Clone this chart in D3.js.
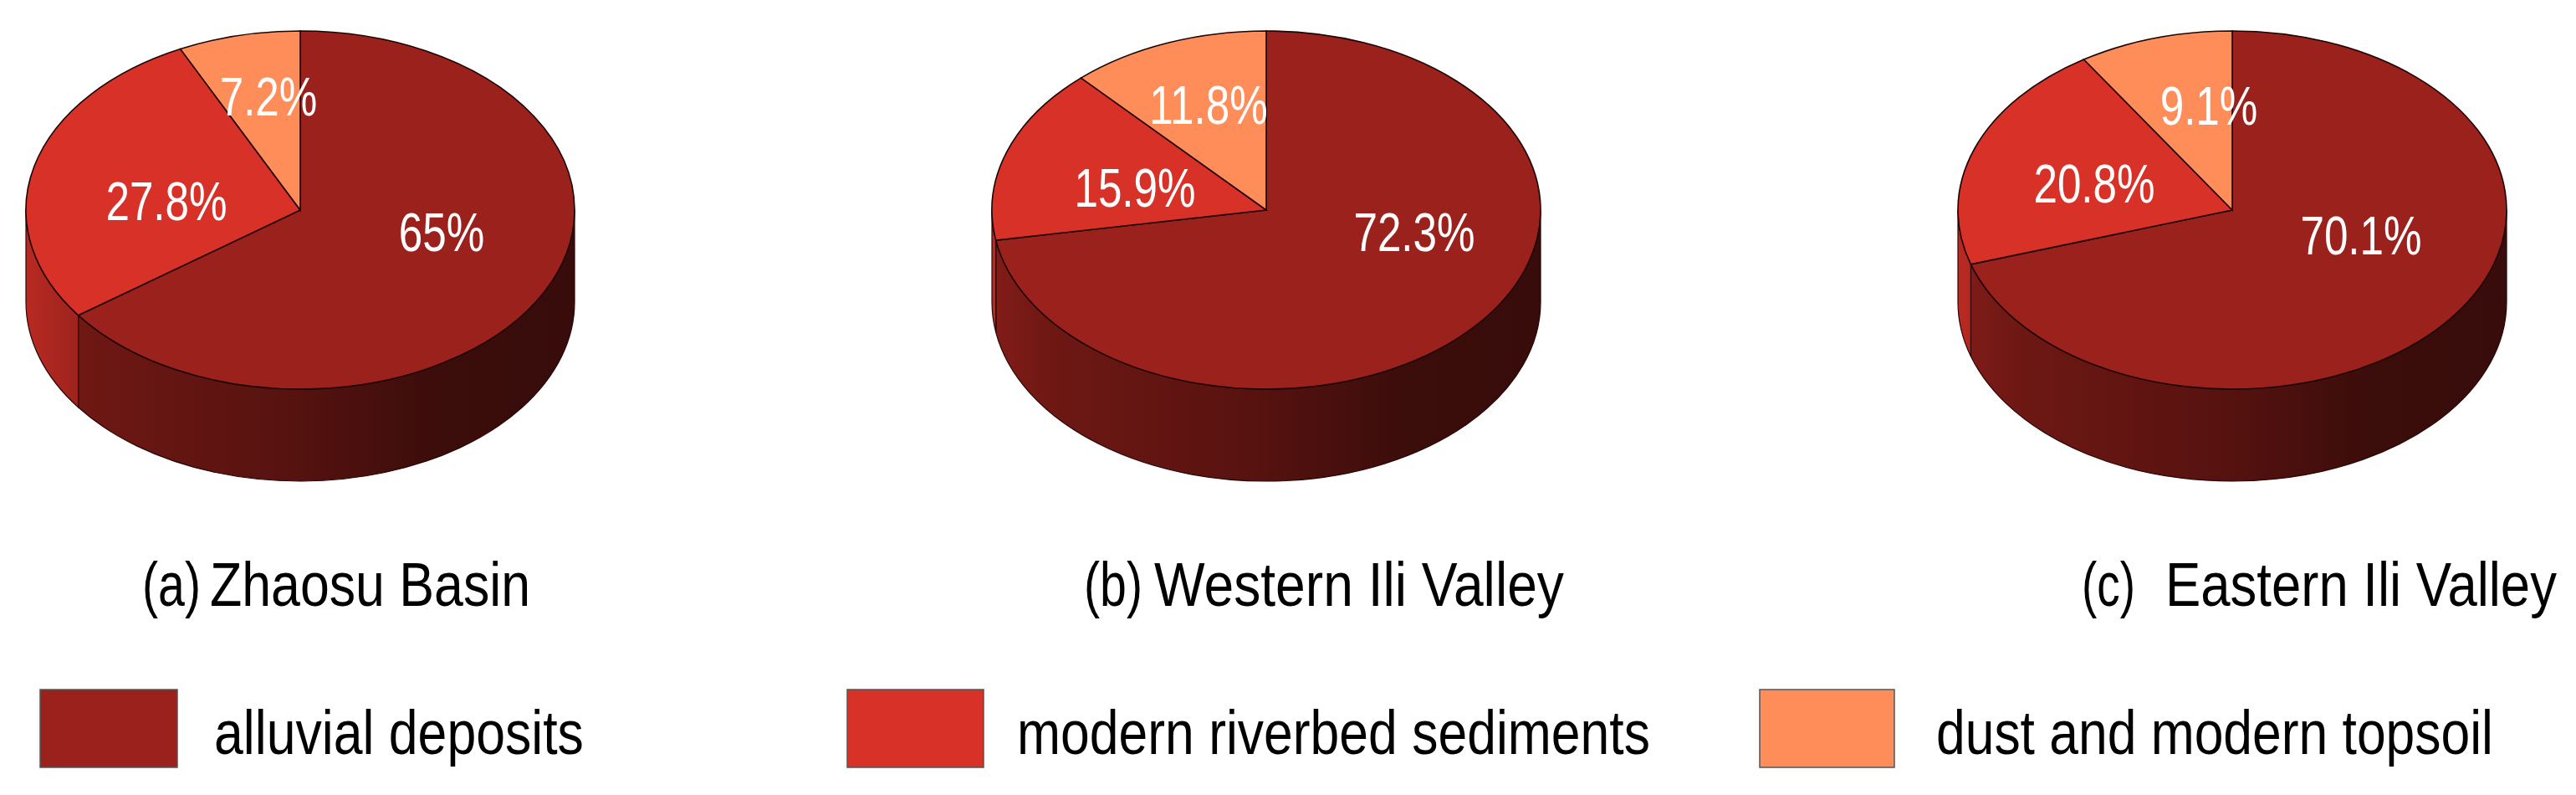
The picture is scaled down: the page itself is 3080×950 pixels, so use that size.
<!DOCTYPE html>
<html>
<head>
<meta charset="utf-8">
<script src="https://cdn.jsdelivr.net/npm/d3@7"></script>
<style>
  html, body { margin: 0; padding: 0; background: #fff; }
  text { font-family: "Liberation Sans", Arial, sans-serif; }
</style>
</head>
<body>
<div id="chart"></div>
<script>
// Data
const categories = ["alluvial deposits", "modern riverbed sediments", "dust and modern topsoil"];
const panelTags = ["(a)", "(b)", "(c)"];
const basins = ["Zhaosu Basin", "Western Ili Valley", "Eastern Ili Valley"];
const zhaosu = [65, 27.8, 7.2];
const westernIli = [72.3, 15.9, 11.8];
const easternIli = [70.1, 20.8, 9.1];
const pieValues = [zhaosu, westernIli, easternIli];

// Layout
const svgWidth = 3080;
const svgHeight = 950;
const rx = 328;
const ry = 214;
const depth = 110;
const pieX = d3.scalePoint().domain(basins).range([359, 2669]);
const pieY = 251;

const topColors = d3.scaleOrdinal().domain(categories).range(["#9a211c", "#d83128", "#fe8d59"]);

// label centres, relative to each pie centre
const labelSpots = [
  [[169, 27], [-160, -10], [-38, -135]],
  [[177, 27], [-157, -26], [-69, -125]],
  [[154, 31], [-165, -31], [-28, -124]]
];
// [tag x, tag width, name x, name width]
const titleSpots = [[170, 70, 251, 383], [1296, 70, 1380, 490], [2489, 64, 2589, 468]];
// [box x, box width, text x, text width]
const legendSpots = [[48, 164, 256, 442], [1013, 163, 1216, 757], [2104, 161, 2315, 666]];

const svg = d3.select("#chart")
  .append("svg")
  .attr("width", svgWidth)
  .attr("height", svgHeight);

const defs = svg.append("defs");

// side walls get darker from left to right
const wallShade = d3.scaleLinear()
  .domain([0, 0.1, 0.5, 0.75, 1])
  .range([0.85, 0.72, 0.55, 0.38, 0.36]);

categories.forEach((c, i) => {
  const grad = defs.append("linearGradient")
    .attr("id", `side-${i}`)
    .attr("gradientUnits", "userSpaceOnUse")
    .attr("x1", -rx).attr("x2", rx).attr("y1", 0).attr("y2", 0);
  wallShade.domain().forEach(t => {
    grad.append("stop")
      .attr("offset", t)
      .attr("stop-color", d3.interpolateRgb("#000", topColors(c))(wallShade(t)));
  });
});

const pie = d3.pie().sort(null).value(d => d);
const arc = d3.arc().innerRadius(0).outerRadius(rx);

// d3 angle (clockwise from 12 o'clock) on the tilted ellipse
const px = a => rx * Math.sin(a);
const py = a => -ry * Math.cos(a);

function wallPath(a0, a1) {
  const large = a1 - a0 > Math.PI ? 1 : 0;
  return `M${px(a0)},${py(a0)}`
    + `A${rx},${ry} 0 ${large} 1 ${px(a1)},${py(a1)}`
    + `L${px(a1)},${py(a1) + depth}`
    + `A${rx},${ry} 0 ${large} 0 ${px(a0)},${py(a0) + depth}Z`;
}

// the lettering in the picture is narrow and tall: squeeze x to the measured width
function fitText(str, x, y, w, size) {
  const t = svg.append("text")
    .style("font-size", `${size}px`)
    .attr("fill", "#000")
    .text(str);
  const natural = t.node().getComputedTextLength();
  t.attr("transform", `translate(${x}, ${y}) scale(${w / natural}, 1)`);
  return t;
}

pieValues.forEach((values, p) => {
  const g = svg.append("g")
    .attr("transform", `translate(${pieX(basins[p])}, ${pieY})`);
  const arcs = pie(values);

  // walls: only the front half shows
  arcs.forEach((d, i) => {
    const a0 = Math.max(d.startAngle, Math.PI / 2);
    const a1 = Math.min(d.endAngle, Math.PI * 3 / 2);
    if (a1 <= a0) return;
    g.append("path")
      .attr("d", wallPath(a0, a1))
      .attr("fill", `url(#side-${i})`)
      .attr("stroke", "#2a0605")
      .attr("stroke-width", 1.2);
  });

  // top face, squashed circle
  const top = g.append("g").attr("transform", `scale(1, ${ry / rx})`);
  top.selectAll("path")
    .data(arcs)
    .enter()
    .append("path")
    .attr("d", arc)
    .attr("fill", (d, i) => topColors(categories[i]))
    .attr("stroke", "#1c0403")
    .attr("stroke-width", 1.6)
    .attr("vector-effect", "non-scaling-stroke");

  g.selectAll("text")
    .data(arcs)
    .enter()
    .append("text")
    .attr("text-anchor", "middle")
    .attr("dy", "0.35em")
    .attr("fill", "#fff")
    .style("font-size", "64px")
    .attr("transform", (d, i) => `translate(${labelSpots[p][i][0]}, ${labelSpots[p][i][1]}) scale(0.8, 1)`)
    .text(d => `${d.value}%`);

  const [tagX, tagW, nameX, nameW] = titleSpots[p];
  fitText(panelTags[p], tagX, 724, tagW, 74);
  fitText(basins[p], nameX, 724, nameW, 74);
});

// legend
categories.forEach((c, i) => {
  const [boxX, boxW, textX, textW] = legendSpots[i];
  svg.append("rect")
    .attr("x", boxX)
    .attr("y", 824)
    .attr("width", boxW)
    .attr("height", 93)
    .attr("fill", topColors(c))
    .attr("stroke", "#555")
    .attr("stroke-width", 1.5);
  fitText(c, textX, 901, textW, 74);
});
</script>
</body>
</html>
